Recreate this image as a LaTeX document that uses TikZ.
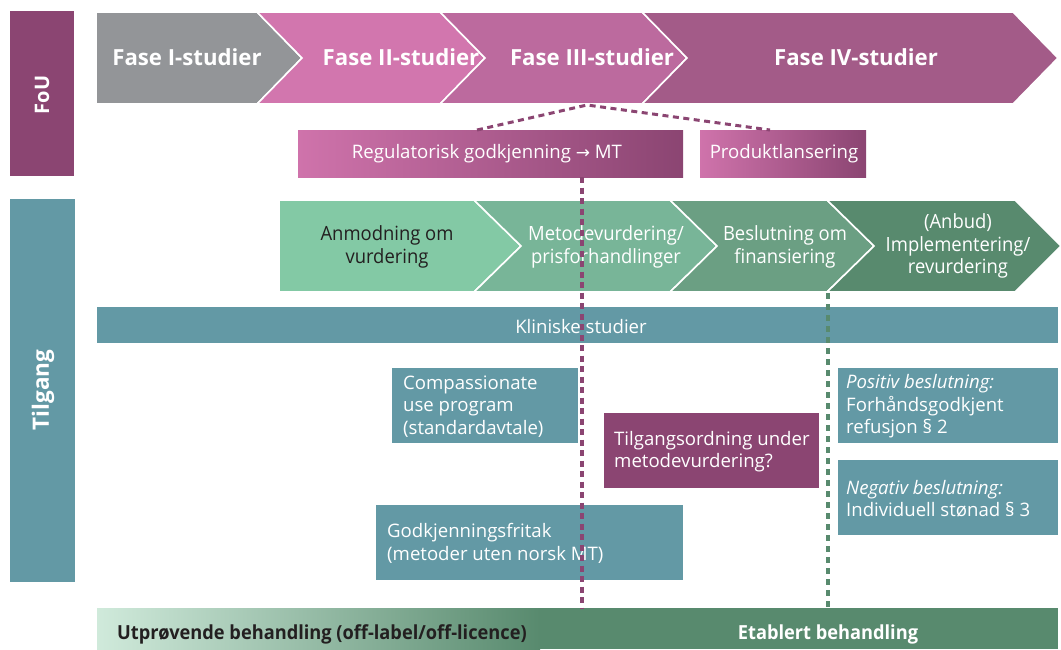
\documentclass[tikz,border=0pt]{standalone}
\usepackage{fontspec}
\setmainfont{Open Sans}
\newfontfamily\cond[FakeStretch=0.94]{Open Sans}
\newfontfamily\sym{DejaVu Sans}
\definecolor{fou}{HTML}{8B4572}
\definecolor{tilg}{HTML}{6399A5}
\definecolor{gry}{HTML}{939598}
\definecolor{pa}{HTML}{D276AE}
\definecolor{pb}{HTML}{BC6A9E}
\definecolor{pc}{HTML}{A35B88}
\definecolor{pl}{HTML}{CF73AB}
\definecolor{ga}{HTML}{83C9A5}
\definecolor{gb}{HTML}{78B598}
\definecolor{gc}{HTML}{6B9F83}
\definecolor{gd}{HTML}{588A6E}
\definecolor{gl}{HTML}{D0EADB}
\definecolor{gm}{HTML}{ADD4BE}
\definecolor{dk}{HTML}{231F20}
\tikzset{
  chev/.style={draw=white, line width=1.6pt, line join=miter},
  phase/.style={text=white, font=\fontsize{22.2}{26}\selectfont\bfseries, inner sep=0},
  gtext/.style={font=\cond\fontsize{19.6}{22.5}\selectfont, align=center, inner sep=0, text=white},
  boxtext/.style={font=\fontsize{18.6}{22.5}\selectfont, align=left, inner sep=0, text=white, anchor=west},
  sidelabel/.style={text=white, font=\fontsize{20}{24}\selectfont\bfseries, rotate=90, inner sep=0},
  bartext/.style={font=\cond\fontsize{19.4}{22}\selectfont\bfseries, inner sep=0},
  pdash/.style={draw=fou, line width=3.4pt, dash pattern=on 6pt off 4.5pt},
  gdash/.style={draw=gd, line width=3.4pt, dash pattern=on 6pt off 5pt},
}
\begin{document}
\begin{tikzpicture}[x=1pt, y=-1pt]
\useasboundingbox (0,0) rectangle (1061,649);
% side bars
\fill[fou] (10,11) rectangle (74,176);
\node[sidelabel] (fou) at (42,95) {FoU};
\fill[tilg] (10,199) rectangle (75,582);
\node[sidelabel, font=\fontsize{22.5}{26}\selectfont\bfseries] (tilgang) at (43,390) {Tilgang};
% top chevrons
\filldraw[chev, fill=gry] (96,12) -- (257,12) -- (302,58) -- (257,104) -- (96,104) -- cycle;
\filldraw[chev, fill=pa] (257,12) -- (440,12) -- (485,58) -- (440,104) -- (257,104) -- (302,58) -- cycle;
\filldraw[chev, fill=pb] (440,12) -- (642,12) -- (687,58) -- (642,104) -- (440,104) -- (485,58) -- cycle;
\filldraw[chev, fill=pc] (642,12) -- (1013,12) -- (1058,58) -- (1013,104) -- (642,104) -- (687,58) -- cycle;
\fill[white] (96,11) rectangle (1061,13);
\node[phase] (f1) at (187,57) {Fase I-studier};
\node[phase] (f2) at (401,57) {Fase II-studier};
\node[phase] (f3) at (592,57) {Fase III-studier};
\node[phase] (f4) at (856,57) {Fase IV-studier};
% regulatory boxes
\shade[left color=pl, right color=fou] (298,130) rectangle (683,177);
\node[boxtext, anchor=center] (reg) at (487,154) {Regulatorisk godkjenning {\sym\fontsize{17}{17}\selectfont →} MT};
\shade[left color=pl, right color=fou] (700,130) rectangle (866,177);
\node[boxtext, anchor=center] (prod) at (784,154) {Produktlansering};
% green chevrons
\filldraw[chev, fill=ga] (279,200) -- (474,200) -- (521,246) -- (474,292) -- (279,292) -- cycle;
\filldraw[chev, fill=gb] (474,200) -- (670,200) -- (717,246) -- (670,292) -- (474,292) -- (521,246) -- cycle;
\filldraw[chev, fill=gc] (670,200) -- (827,200) -- (874,246) -- (827,292) -- (670,292) -- (717,246) -- cycle;
\filldraw[chev, fill=gd] (827,200) -- (1015,200) -- (1061,246) -- (1015,292) -- (827,292) -- (874,246) -- cycle;
\node[gtext, text=dk] (g1) at (387,247) {Anmodning om\\vurdering};
\node[gtext] (g2) at (606,247) {Metodevurdering/\\prisforhandlinger};
\node[gtext] (g3) at (785,247) {Beslutning om\\finansiering};
\node[gtext] (g4) at (958,246) {(Anbud)\\Implementering/\\revurdering};
% clinical studies bar
\fill[tilg] (97,307) rectangle (1058,343);
\node[boxtext, anchor=center] (klin) at (581,327) {Kliniske studier};
% boxes
\fill[tilg] (392,368) rectangle (578,443);
\node[boxtext] (comp) at (403,406.5) {Compassionate\\use program\\(standardavtale)};
\fill[fou] (604,413) rectangle (819,488);
\node[boxtext] (tilgord) at (614,451.5) {Tilgangsordning under\\metodevurdering?};
\fill[tilg] (376,505) rectangle (683,580);
\node[boxtext] (godk) at (387,543.5) {Godkjenningsfritak\\(metoder uten norsk MT)};
\fill[tilg] (838,368) rectangle (1058,443);
\node[boxtext] (pos) at (846,406.5) {\textit{Positiv beslutning:}\\Forhåndsgodkjent\\refusjon § 2};
\fill[tilg] (838,460) rectangle (1058,535);
\node[boxtext] (neg) at (846,498.5) {\textit{Negativ beslutning:}\\Individuell stønad § 3};
% bottom bar
\shade[left color=gl, middle color=gm, right color=gd] (97,608) rectangle (540,649);
\fill[gd] (539,608) rectangle (1058,649);
\node[bartext, text=dk, anchor=west] (utp) at (117,634) {Utprøvende behandling (off-label/off-licence)};
\node[bartext, text=white] (etab) at (828,634) {Etablert behandling};
% dashed connectors
\coordinate (apex) at (587,105);
\coordinate (regtop) at (477,130);
\coordinate (prodtop) at (770,130);
\coordinate (pv1) at (582,177);
\coordinate (pv2) at (582,608);
\coordinate (gv1) at (828,293);
\coordinate (gv2) at (828,608);
\draw[pdash, line width=3pt] (regtop) -- (apex) -- (prodtop);
\draw[pdash] (pv1) -- (pv2);
\draw[gdash] (gv1) -- (gv2);
\end{tikzpicture}
\end{document}
